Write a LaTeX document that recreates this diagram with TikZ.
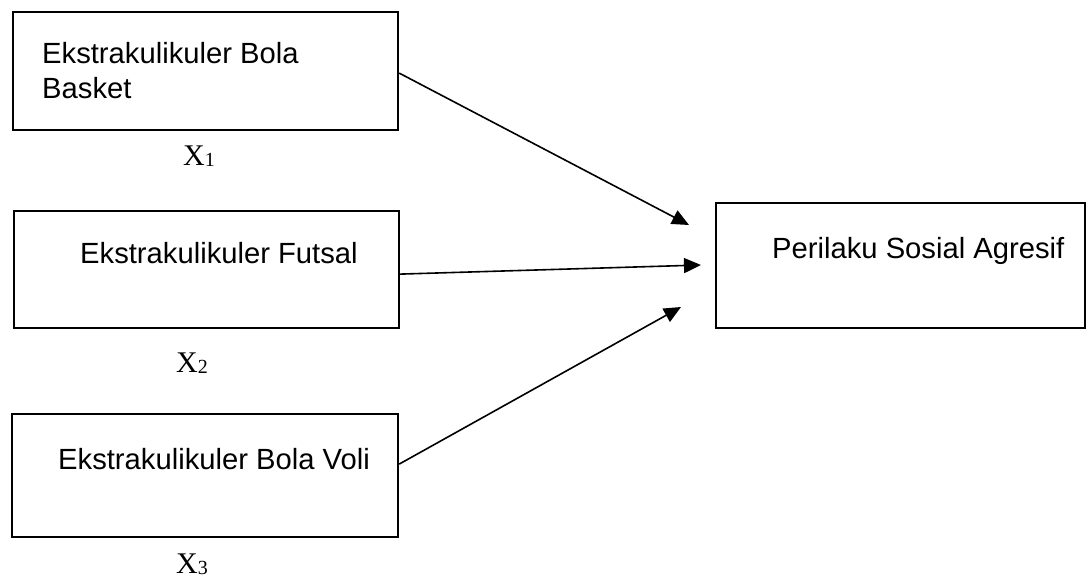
\documentclass[tikz,border=0pt]{standalone}
\usepackage{fontspec}
\setmainfont{Liberation Serif}
\newfontfamily\arialfont{Liberation Sans}
\usetikzlibrary{arrows.meta}

\tikzset{
  varbox/.style={draw, line width=2.2pt, rectangle, inner sep=0pt, anchor=north west},
  boxtext/.style={font=\arialfont\fontsize{29.2}{35}\selectfont, inner sep=0pt, anchor=base west},
  xlabel/.style={font=\fontsize{30}{36}\selectfont, inner sep=0pt, anchor=base west},
  effect/.style={line width=1.6pt, -{Triangle[length=17pt, width=15pt]}}
}

\begin{document}
\begin{tikzpicture}[x=1pt, y=-1pt]
\useasboundingbox (0,0) rectangle (1086,579);

% ===== LEFT: independent variables =====
\node[varbox, minimum width=385pt, minimum height=118pt] (basket) at (12,11) {};
\node[boxtext] (basketA) at (42,63) {Ekstrakulikuler Bola};
\node[boxtext] (basketB) at (42,98) {Basket};
\node[xlabel] (xone) at (183,165) {X\raisebox{-1pt}{\fontsize{20}{24}\selectfont 1}};

\node[varbox, minimum width=385pt, minimum height=117pt] (futsal) at (13,210) {};
\node[boxtext] (futsalT) at (80,263) {Ekstrakulikuler Futsal};
\node[xlabel] (xtwo) at (176,372) {X\raisebox{-1pt}{\fontsize{20}{24}\selectfont 2}};

\node[varbox, minimum width=386pt, minimum height=123pt] (voli) at (11,413) {};
\node[boxtext] (voliT) at (58,469) {Ekstrakulikuler Bola Voli};
\node[xlabel] (xthree) at (176,573) {X\raisebox{-1pt}{\fontsize{20}{24}\selectfont 3}};

% ===== RIGHT: dependent variable =====
\node[varbox, minimum width=369pt, minimum height=125pt] (agresif) at (715,202) {};
\node[boxtext] (agresifT) at (772,258) {Perilaku Sosial Agresif};

% arrow tips stop short of the box
\coordinate (tipA) at (689,225);
\coordinate (tipB) at (701,265);
\coordinate (tipC) at (681,307);

\draw[effect] ([yshift=-2pt]basket.east) -- (tipA);
\draw[effect] ([yshift=-4.5pt]futsal.east) -- (tipB);
\draw[effect] ([yshift=11.5pt]voli.east) -- (tipC);

\end{tikzpicture}
\end{document}
